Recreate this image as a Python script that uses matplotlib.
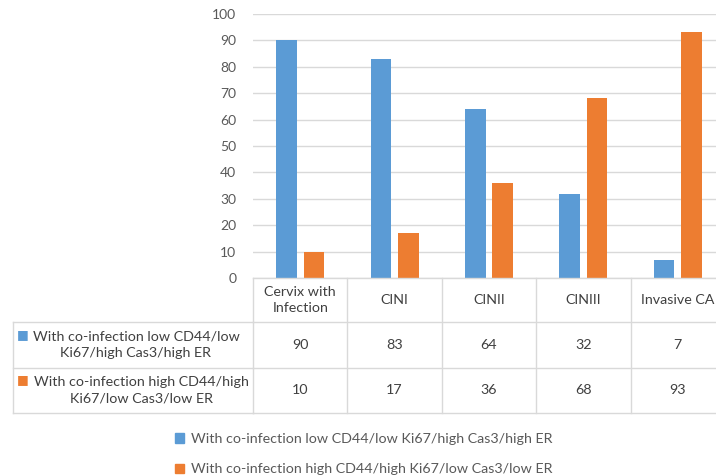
import matplotlib
matplotlib.use("Agg")
import matplotlib.pyplot as plt
from matplotlib.lines import Line2D
from matplotlib.patches import Patch
from matplotlib.transforms import blended_transform_factory

categories = ["Cervix with\nInfection", "CINI", "CINII", "CINIII", "Invasive CA"]
series_names = [
    "With co-infection low CD44/low Ki67/high Cas3/high ER",
    "With co-infection high CD44/high Ki67/low Cas3/low ER",
]
row_labels = [
    "With co-infection low CD44/low\nKi67/high Cas3/high ER",
    "With co-infection high CD44/high\nKi67/low Cas3/low ER",
]
low_vals = [90, 83, 64, 32, 7]
high_vals = [10, 17, 36, 68, 93]
colors = ["#5b9bd5", "#ed7d31"]

plt.rcParams["font.family"] = ["Lato", "DejaVu Sans"]
W, H = 716, 476
fig = plt.figure(figsize=(W / 100, H / 100), dpi=100)

def fy(p):
    return 1 - p / H

ax = fig.add_axes([253 / W, fy(278), (725 - 253) / W, (278 - 14) / H])
x = list(range(len(categories)))
bw = 0.22
ax.bar([i - 0.145 for i in x], low_vals, bw, color=colors[0], zorder=3)
ax.bar([i + 0.145 for i in x], high_vals, bw, color=colors[1], zorder=3)
ax.set_xlim(-0.5, len(categories) - 0.5)
ax.set_ylim(0, 100)
ax.set_yticks(range(0, 101, 10))
ax.yaxis.grid(True, color="#d9d9d9", linewidth=1)
ax.set_axisbelow(True)
for s in ax.spines.values():
    s.set_visible(False)
ax.tick_params(axis="y", length=0, pad=12, labelsize=10, labelcolor="#595959")
ax.set_xticks([])

# data table under the axis
tr = blended_transform_factory(ax.transData, fig.transFigure)
line_kw = dict(color="#d9d9d9", linewidth=1, clip_on=False)
rows_y = [278, 322, 368, 413]
n = len(categories)
for yp in rows_y:
    fig.add_artist(Line2D([-0.5, n - 0.5], [fy(yp)] * 2, transform=tr, **line_kw))
for yp in rows_y[1:]:
    fig.add_artist(Line2D([13 / W, 253 / W], [fy(yp)] * 2, transform=fig.transFigure, **line_kw))
for b in range(n + 1):
    fig.add_artist(Line2D([b - 0.5] * 2, [fy(278), fy(413)], transform=tr, **line_kw))
fig.add_artist(Line2D([13 / W] * 2, [fy(322), fy(413)], transform=fig.transFigure, **line_kw))

txt = dict(fontsize=10.3, color="#404040", ha="center", va="center", linespacing=1.45)
for i, c in enumerate(categories):
    fig.text(i, fy(300), c, transform=tr, **txt)
    fig.text(i, fy(345), str(low_vals[i]), transform=tr, **txt)
    fig.text(i, fy(390), str(high_vals[i]), transform=tr, **txt)
for r, (lab, yc, xc) in enumerate(zip(row_labels, [345, 390], [136, 141])):
    fig.text(xc / W, fy(yc), lab, ha="center", va="center", fontsize=10.3,
             color="#404040", linespacing=1.45)
    fig.text(22.5 / W, fy(yc - 10), "\u25a0", ha="center", va="center",
             fontsize=9, color=colors[r], family="DejaVu Sans")

handles = [Patch(color=colors[0]), Patch(color=colors[1])]
fig.legend(handles, series_names, loc="upper left", bbox_to_anchor=(162 / W, fy(420)),
           frameon=False, fontsize=10.3, labelcolor="#595959", handlelength=0.65,
           handleheight=0.65, handletextpad=0.5, labelspacing=1.3)

fig.savefig("out.png", dpi=100)
